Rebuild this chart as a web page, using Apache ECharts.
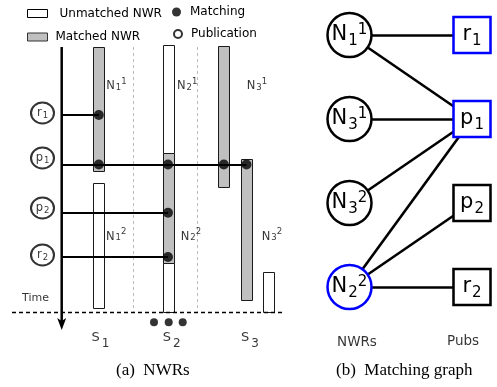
<!DOCTYPE html>
<html><head><meta charset="utf-8">
<script src="https://cdn.jsdelivr.net/npm/echarts@6/dist/echarts.min.js"></script>
<style>html,body{margin:0;padding:0;background:#fff}#c{width:497px;height:387px}</style>
</head><body><div id="c"></div>
<script>
// ===== Panel (a): NWR timeline. x = position across servers (lane units), t = time =====
const matchedBars   = [[3.71, 0.0, 12.4], [10.63, 10.63, 21.6], [16.21, -0.1, 13.97], [18.48, 11.23, 25.37]]; // [x, tStart, tEnd]
const unmatchedBars = [[10.63, -0.2, 10.63], [3.71, 13.6, 26.1], [10.63, 21.6, 26.47], [20.7, 22.5, 26.47]];
const matchTimes    = [6.8, 11.75, 16.57, 21.0];      // r1, p1, p2, r2
const matchReach    = [3.71, 18.48, 10.63, 10.63];    // farthest NWR matched
const matchingDots  = [[3.71, 6.8], [3.71, 11.75], [10.63, 11.75], [16.21, 11.75], [18.48, 11.75], [10.63, 16.57], [10.63, 21.0]];
const pubLetters    = ['r', 'p', 'p', 'r'];
const pubIndex      = ['1', '1', '2', '2'];
const pubMarks      = [[-1.92, 6.6], [-1.92, 11.1], [-1.92, 16.1], [-1.92, 20.8]];
const nwrLabelSub   = ['1', '2', '3', '1', '2', '3'];
const nwrLabelSup   = ['1', '1', '1', '2', '2', '2'];
const nwrLabelPos   = [[4.45, 3.9], [11.52, 3.9], [18.5, 3.9], [4.42, 18.97], [11.9, 18.97], [20.0, 18.97]];
const serverSub     = ['1', '2', '3'];
const serverLabelPos= [[3.88, 29.1], [11.0, 29.1], [18.83, 29.1]];
const laneSeparators= [7.08, 13.48];
const timeLimit     = 26.47;
const timeAxisEnd   = 28.3;
const baselineSpan  = [-4.97, 22.33];
const ellipsisDots  = [[9.23, 27.53], [10.7, 27.53], [12.1, 27.53]];
const timeLabelPos  = [-2.62, 25.1];

// ===== Panel (b): matching graph. x: 0 = NWRs, 1 = Pubs; y = row =====
const nwrNodeIds  = ['N11', 'N31', 'N32', 'N22'];
const nwrNodeSub  = ['1', '3', '3', '2'];
const nwrNodeSup  = ['1', '1', '2', '2'];
const nwrNodeRow  = [0, 1, 2, 3];
const nwrNodeBlue = [false, false, false, true];
const pubNodeIds  = ['r1', 'p1', 'p2', 'r2'];
const pubNodeBlue = [true, true, false, false];
const pubNodeRow  = [0, 1, 2, 3];
const edges = [['N11', 'r1'], ['N11', 'p1'], ['N31', 'p1'], ['N32', 'p1'], ['N22', 'p1'], ['N22', 'p2'], ['N22', 'r2']];
const columnNames = ['NWRs', 'Pubs'];
const columnLabelPos = [[0.061, 3.655], [0.927, 3.643]];

const F = 'DejaVu Sans';
const BLUE = '#0000ff';
function ss(k, base, sub, sup) {
  let s = '{' + k + 'm|' + base + '}';
  if (sub) s += '{' + k + 'b|' + sub + '}';
  if (sup) s += '{' + k + 't|' + sup + '}';
  return s;
}
const T = (o) => Object.assign({fontFamily: F, color: '#000'}, o);
const rich = {
  am: T({fontSize: 11.5}), ab: T({fontSize: 8.5, padding: [3, 0, 0, 1]}), at: T({fontSize: 8.5, padding: [0, 0, 9, 0]}),
  cm: T({fontSize: 11.5}), cb: T({fontSize: 8.5, padding: [5, 0, 0, 1]}),
  sm: T({fontSize: 13}), sb: T({fontSize: 12, padding: [11, 0, 0, 2]}),
  bm: T({fontSize: 21}), bb: T({fontSize: 15, padding: [12, 0, 0, 1]}), bt: T({fontSize: 15, padding: [0, 0, 10, 0]}),
  pm: T({fontSize: 21}), pb: T({fontSize: 15, padding: [12, 0, 0, 1]})
};

function barRender(fill) {
  return function (params, api) {
    const a = api.coord([api.value(0), api.value(1)]);
    const b = api.coord([api.value(0), api.value(2)]);
    return {type: 'rect', shape: {x: Math.round(a[0] - 5.5) + 0.5, y: Math.round(a[1]) + 0.5, width: 11, height: Math.round(b[1] - a[1])},
      style: {fill: fill, stroke: '#1a1a1a', lineWidth: 1}};
  };
}

const chart = echarts.init(document.getElementById('c'), null, {renderer: 'canvas'});
const labelA = [];
nwrLabelPos.forEach((p, i) => labelA.push({value: p, label: {position: 'right', distance: 0, formatter: ss('a', 'N', nwrLabelSub[i], nwrLabelSup[i])}}));
serverLabelPos.forEach((p, i) => labelA.push({value: p, label: {position: 'inside', formatter: ss('s', 'S', serverSub[i])}}));
labelA.push({value: timeLabelPos, label: {position: 'inside', formatter: 'Time', fontSize: 11, fontFamily: F, color: '#000'}});

const nodes = [];
nwrNodeIds.forEach((id, i) => nodes.push({name: id, value: [0, nwrNodeRow[i]], symbol: 'circle', symbolSize: 44,
  itemStyle: {color: '#fff', borderColor: nwrNodeBlue[i] ? BLUE : '#000', borderWidth: 2.5},
  label: {formatter: ss('b', 'N', nwrNodeSub[i], nwrNodeSup[i])}}));
pubNodeIds.forEach((id, i) => nodes.push({name: id, value: [1, pubNodeRow[i]], symbol: 'rect', symbolSize: [37, 36],
  itemStyle: {color: '#fff', borderColor: pubNodeBlue[i] ? BLUE : '#000', borderWidth: 2.5},
  label: {formatter: ss('p', id[0], id[1])}}));

const legendBase = {padding: 0, orient: 'vertical', selectedMode: false,
  textStyle: {fontFamily: F, fontSize: 12, color: '#000'}};
const option = {
  animation: false,
  backgroundColor: '#fff',
  title: [
    {text: '(a)  NWRs', left: 116, top: 362, padding: 0, textStyle: {fontFamily: 'Liberation Serif', fontSize: 17, fontWeight: 'normal', color: '#000'}},
    {text: '(b)  Matching graph', left: 336, top: 362, padding: 0, textStyle: {fontFamily: 'Liberation Serif', fontSize: 17, fontWeight: 'normal', color: '#000'}}
  ],
  legend: [
    Object.assign({}, legendBase, {data: ['Unmatched NWR'], left: 27, top: 7.5, itemWidth: 20, itemHeight: 8, icon: 'rect',
      itemStyle: {color: '#fff', borderColor: '#000', borderWidth: 1}, textStyle: Object.assign({}, legendBase.textStyle, {padding: [0, 0, 8, 7]})}),
    Object.assign({}, legendBase, {data: ['Matched NWR'], left: 27, top: 31, itemWidth: 20, itemHeight: 8, icon: 'rect',
      itemStyle: {color: '#c0c0c0', borderColor: '#333', borderWidth: 1}, textStyle: Object.assign({}, legendBase.textStyle, {padding: [0, 0, 1, 3]})}),
    Object.assign({}, legendBase, {data: ['Matching'], left: 172, top: 6, itemWidth: 9, itemHeight: 9, icon: 'circle',
      itemStyle: {color: '#000', borderWidth: 0}, textStyle: Object.assign({}, legendBase.textStyle, {padding: [0, 0, 7, 4]})}),
    Object.assign({}, legendBase, {data: ['Publication'], left: 173, top: 28, itemWidth: 8, itemHeight: 8, icon: 'circle',
      itemStyle: {color: '#fff', borderColor: '#000', borderWidth: 2}, textStyle: Object.assign({}, legendBase.textStyle, {padding: [0, 0, 0, 4]})})
  ],
  grid: [
    {left: 61.7, top: 47, width: 240, height: 283},
    {left: 349.5, top: 35, width: 122.5, height: 252}
  ],
  xAxis: [
    {gridIndex: 0, type: 'value', min: 0, max: 24, show: false},
    {gridIndex: 1, type: 'value', min: 0, max: 1, show: false}
  ],
  yAxis: [
    {gridIndex: 0, type: 'value', min: 0, max: timeAxisEnd, inverse: true, show: false},
    {gridIndex: 1, type: 'value', min: 0, max: 3, inverse: true, show: false}
  ],
  series: [
    { // lane separators
      type: 'custom', name: 'guides', clip: false, silent: true, z: 1,
      data: laneSeparators.map(x => [x]),
      renderItem: function (params, api) {
        const a = api.coord([api.value(0), 0]);
        const b = api.coord([api.value(0), timeLimit]);
        return {type: 'line', shape: {x1: Math.round(a[0]) + 0.5, y1: a[1], x2: Math.round(a[0]) + 0.5, y2: b[1]},
          style: {stroke: '#bbbbbb', lineWidth: 1, lineDash: [3, 3]}};
      }
    },
    { // time limit baseline
      type: 'custom', name: 'baseline', clip: false, silent: true, z: 6,
      data: [[baselineSpan[0], baselineSpan[1], timeLimit]],
      renderItem: function (params, api) {
        const a = api.coord([api.value(0), api.value(2)]);
        const b = api.coord([api.value(1), api.value(2)]);
        return {type: 'line', shape: {x1: a[0], y1: Math.round(a[1]) + 0.5, x2: b[0], y2: Math.round(a[1]) + 0.5},
          style: {stroke: '#000', lineWidth: 1.3, lineDash: [4, 3]}};
      }
    },
    {type: 'custom', name: 'Unmatched NWR', clip: false, z: 2, itemStyle: {color: '#fff', borderColor: '#000'},
      data: unmatchedBars, renderItem: barRender('#ffffff')},
    {type: 'custom', name: 'Matched NWR', clip: false, z: 2, itemStyle: {color: '#c0c0c0', borderColor: '#333'},
      data: matchedBars, renderItem: barRender('#c0c0c0')},
    { // time axis with arrow
      type: 'custom', name: 'timeAxis', clip: false, silent: true, z: 4,
      data: [[0, 0, timeAxisEnd]],
      renderItem: function (params, api) {
        const a = api.coord([api.value(0), api.value(1)]);
        const b = api.coord([api.value(0), api.value(2)]);
        const x = a[0];
        return {type: 'group', children: [
          {type: 'line', shape: {x1: x, y1: a[1], x2: x, y2: b[1] - 7}, style: {stroke: '#000', lineWidth: 2.5}},
          {type: 'polygon', shape: {points: [[x, b[1]], [x - 4.5, b[1] - 12], [x, b[1] - 9], [x + 4.5, b[1] - 12]]}, style: {fill: '#000'}}
        ]};
      }
    },
    { // matching lines
      type: 'custom', name: 'matchLines', clip: false, silent: true, z: 4,
      data: matchTimes.map((t, i) => [t, matchReach[i]]),
      renderItem: function (params, api) {
        const a = api.coord([0, api.value(0)]);
        const b = api.coord([api.value(1), api.value(0)]);
        return {type: 'line', shape: {x1: a[0], y1: Math.round(a[1]), x2: b[0], y2: Math.round(a[1])}, style: {stroke: '#000', lineWidth: 2.2}};
      }
    },
    {type: 'scatter', name: 'Matching', clip: false, z: 5, symbol: 'circle', symbolSize: 10, itemStyle: {color: '#000'},
      data: matchingDots, silent: true},
    {type: 'scatter', name: 'Publication', clip: false, z: 5, symbol: 'circle', symbolSize: [23, 21], silent: true,
      itemStyle: {color: '#fff', borderColor: '#000', borderWidth: 2},
      label: {show: true, position: 'inside', rich: rich},
      data: pubMarks.map((p, i) => ({value: p, label: {formatter: ss('c', pubLetters[i], pubIndex[i])}}))},
    {type: 'scatter', name: 'ellipsis', clip: false, z: 5, symbol: 'circle', symbolSize: 8, itemStyle: {color: '#000'},
      data: ellipsisDots, silent: true},
    {type: 'scatter', name: 'labelsA', clip: false, z: 6, symbolSize: 0, silent: true,
      label: {show: true, rich: rich, color: '#000'}, data: labelA},
    { // matching graph
      type: 'graph', name: 'graph', coordinateSystem: 'cartesian2d', xAxisIndex: 1, yAxisIndex: 1, layout: 'none', silent: true,
      data: nodes,
      links: edges.map(e => ({source: e[0], target: e[1]})),
      lineStyle: {color: '#000', width: 2.6, opacity: 1, curveness: 0},
      label: {show: true, position: 'inside', rich: rich},
      emphasis: {disabled: true}
    },
    {type: 'scatter', name: 'labelsB', xAxisIndex: 1, yAxisIndex: 1, clip: false, symbolSize: 0, silent: true,
      label: {show: true, position: 'inside', fontFamily: F, fontSize: 13.5, color: '#000', formatter: p => p.name},
      data: columnNames.map((n, i) => ({name: n, value: columnLabelPos[i]}))}
  ]
};
chart.setOption(option);
</script></body></html>
